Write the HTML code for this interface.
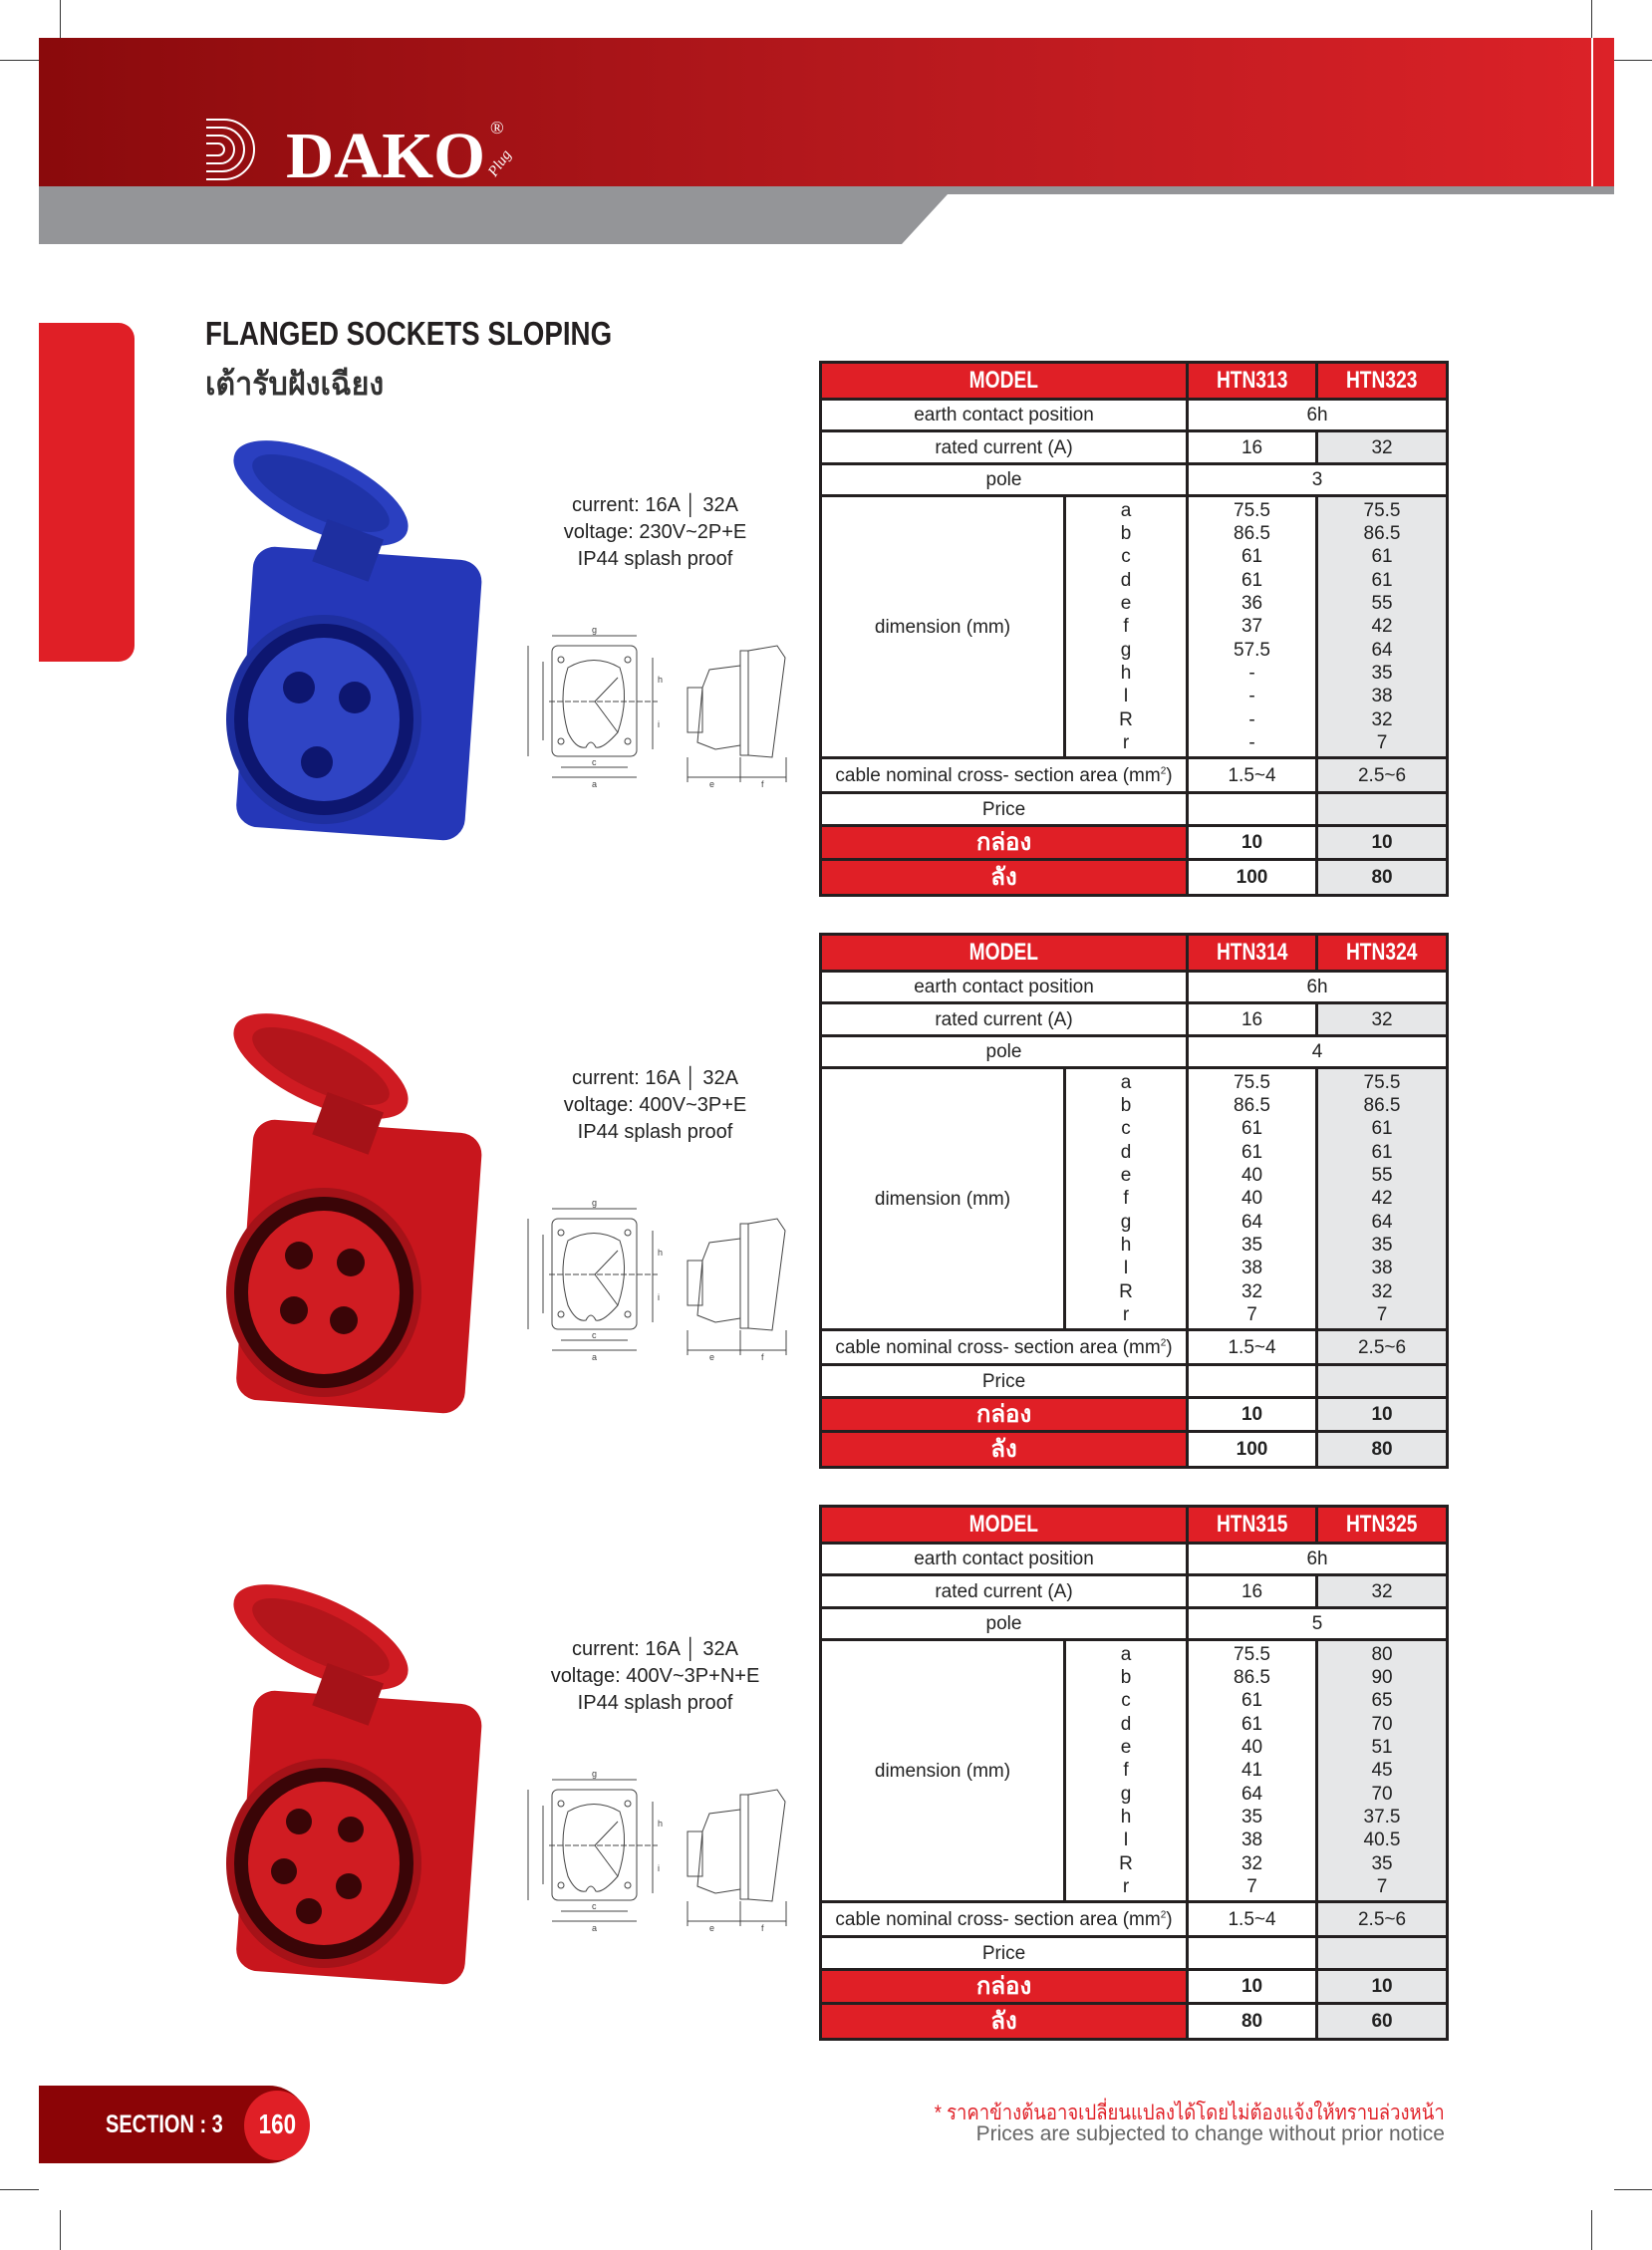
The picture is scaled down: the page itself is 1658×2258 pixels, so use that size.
<!DOCTYPE html>
<html><head><meta charset="utf-8">
<style>
*{margin:0;padding:0;box-sizing:border-box}
body{width:1658px;height:2258px;background:#fff;position:relative;overflow:hidden;font-family:"Liberation Sans",sans-serif;color:#222}
.abs{position:absolute}
.sx{display:inline-block;transform:scaleX(0.8);transform-origin:center;font-weight:bold}
table.t{position:absolute;left:822px;width:629px;border-collapse:collapse;table-layout:fixed}
table.t td{border:3px solid #231f20;text-align:center;font-size:19px;padding:0;vertical-align:middle;line-height:1;overflow:hidden}
table.t td.h{background:#e01f26;color:#fff;font-size:24px}
table.t td.th{background:#e01f26;color:#fff;font-size:24px;font-weight:bold;font-family:'Liberation Sans','Noto Sans CJK SC',sans-serif;line-height:0.9}
table.t td.g{background:#e6e7e8}
table.t td.b{font-weight:bold;font-size:19px}
table.t td.dims{line-height:23.3px;font-size:19px}
.spec{position:absolute;left:540px;width:235px;text-align:center;font-size:20px;line-height:27px;color:#222}
</style></head><body>
<!-- crop marks -->
<div class="abs" style="left:60px;top:0;width:1px;height:39px;background:#333"></div>
<div class="abs" style="left:1597px;top:0;width:1px;height:39px;background:#333"></div>
<div class="abs" style="left:0;top:60px;width:39px;height:1px;background:#333"></div>
<div class="abs" style="left:1620px;top:60px;width:38px;height:1px;background:#333"></div>
<div class="abs" style="left:0;top:2197px;width:39px;height:1px;background:#333"></div>
<div class="abs" style="left:1620px;top:2197px;width:38px;height:1px;background:#333"></div>
<div class="abs" style="left:60px;top:2218px;width:1px;height:40px;background:#333"></div>
<div class="abs" style="left:1597px;top:2218px;width:1px;height:40px;background:#333"></div>

<!-- header -->
<div class="abs" style="left:39px;top:38px;width:1581px;height:150px;background:linear-gradient(90deg,#8a0a0c,#b8191e 55%,#dc2228)"></div>
<div class="abs" style="left:1597px;top:38px;width:2px;height:157px;background:#fff"></div>
<svg class="abs" style="left:39px;top:187px" width="1581" height="60">
<polygon points="0,0 1581,0 1581,8 912,8 866,58 0,58" fill="#949598"/>
</svg>
<svg class="abs" style="left:205px;top:112px" width="330" height="80">
<g stroke="#fff" stroke-width="2" fill="none">
<path d="M2,8 H20 A30,30 0 0 1 20,68 H2"/><path d="M2,16 H18 A22,22 0 0 1 18,60 H2"/>
<path d="M2,24 H16 A14,14 0 0 1 16,52 H2"/><path d="M2,32 H14 A6,6 0 0 1 14,44 H2"/>
</g>
<text x="82" y="66" fill="#fff" font-family="Liberation Serif" font-weight="bold" font-size="66" textLength="200" lengthAdjust="spacingAndGlyphs">DAKO</text>
<text x="287" y="22" fill="#fff" font-family="Liberation Serif" font-size="18">®</text>
<text x="292" y="66" fill="#fff" font-family="Liberation Serif" font-style="italic" font-size="15" transform="rotate(-55 292 66)">Plug</text>
</svg>

<!-- side tab -->
<div class="abs" style="left:39px;top:324px;width:96px;height:340px;background:#e01f26;border-radius:0 16px 16px 0"></div>

<div class="abs" style="left:206px;top:316px;font-size:33px;font-weight:bold;color:#231f20;transform:scaleX(0.84);transform-origin:left;white-space:nowrap">FLANGED SOCKETS SLOPING</div>
<div class="abs" style="left:206px;top:360px;font-size:32px;font-weight:bold;color:#333;font-family:'Liberation Sans','Noto Sans CJK SC',sans-serif;transform:scaleX(0.95);transform-origin:left">เต้ารับฝังเฉียง</div>

<svg width="0" height="0" style="position:absolute">
<defs>
<g id="draw">
<g stroke="#444" stroke-width="1" fill="none">
<rect x="554" y="648" width="85" height="111" rx="6"/>
<path d="M570,670 Q596,655 622,670 Q632,700 620,735 Q605,752 598,750 Q593,740 588,750 Q578,752 570,735 Q560,700 570,670Z"/>
<circle cx="563" cy="662" r="3"/><circle cx="630" cy="662" r="3"/><circle cx="563" cy="744" r="3"/><circle cx="630" cy="744" r="3"/>
<line x1="551" y1="704" x2="660" y2="704" stroke-dasharray="6,2"/>
<line x1="597" y1="704" x2="620" y2="680"/><line x1="597" y1="704" x2="620" y2="735"/>
<line x1="554" y1="638" x2="639" y2="638"/><line x1="563" y1="770" x2="630" y2="770"/><line x1="554" y1="780" x2="639" y2="780"/>
<line x1="530" y1="648" x2="530" y2="759"/><line x1="545" y1="664" x2="545" y2="743"/>
<line x1="655" y1="660" x2="655" y2="704"/><line x1="655" y1="704" x2="655" y2="752"/>
<rect x="743" y="653" width="8" height="105"/>
<path d="M751,653 L780,648 L788,660 L775,760 L751,758"/>
<path d="M743,668 L712,672 L705,690 L700,745 L718,752 L743,748"/>
<rect x="690" y="690" width="15" height="45"/>
<line x1="690" y1="780" x2="789" y2="780"/><line x1="690" y1="760" x2="690" y2="785"/><line x1="789" y1="760" x2="789" y2="785"/><line x1="743" y1="760" x2="743" y2="785"/>
</g>
<g font-size="9" fill="#444" font-family="Liberation Sans"><text x="594" y="635">g</text><text x="594" y="768">c</text><text x="594" y="790">a</text><text x="660" y="685">h</text><text x="660" y="730">i</text><text x="712" y="790">e</text><text x="764" y="790">f</text></g>
</g>
</defs>
</svg>

<!-- product 1 -->
<svg class="abs" style="left:0;top:0" width="820" height="900">
<rect x="245" y="555" width="230" height="282" rx="22" fill="#2537b8" transform="rotate(4 360 700)"/>
<ellipse cx="325" cy="722" rx="98" ry="105" fill="#1e2fa0"/>
<ellipse cx="325" cy="722" rx="90" ry="96" fill="#0d1670"/>
<ellipse cx="325" cy="722" rx="76" ry="82" fill="#2f44c4"/>
<circle cx="300" cy="690" r="16" fill="#0d1670"/><circle cx="356" cy="700" r="16" fill="#0d1670"/><circle cx="318" cy="765" r="16" fill="#0d1670"/>
<ellipse cx="322" cy="495" rx="95" ry="38" fill="#2a3fc0" transform="rotate(25 322 495)"/>
<ellipse cx="322" cy="495" rx="75" ry="25" fill="#1f33a8" transform="rotate(25 322 495)"/>
<rect x="320" y="530" width="60" height="45" fill="#1e2fa0" transform="rotate(20 350 550)"/>
<use href="#draw"/>
</svg>
<div class="spec" style="top:494px">current: 16A │ 32A<br>voltage: 230V~2P+E<br>IP44 splash proof</div>

<!-- product 2 -->
<svg class="abs" style="left:0;top:575px" width="820" height="900">
<rect x="245" y="555" width="230" height="282" rx="22" fill="#c8161d" transform="rotate(4 360 700)"/>
<ellipse cx="325" cy="722" rx="98" ry="105" fill="#a51218"/>
<ellipse cx="325" cy="722" rx="90" ry="96" fill="#3a0507"/>
<ellipse cx="325" cy="722" rx="76" ry="82" fill="#d01c22"/>
<circle cx="300" cy="685" r="14" fill="#3a0507"/><circle cx="352" cy="692" r="14" fill="#3a0507"/><circle cx="295" cy="740" r="14" fill="#3a0507"/><circle cx="345" cy="750" r="14" fill="#3a0507"/>
<ellipse cx="322" cy="495" rx="95" ry="38" fill="#cf1b22" transform="rotate(25 322 495)"/>
<ellipse cx="322" cy="495" rx="75" ry="25" fill="#b3151b" transform="rotate(25 322 495)"/>
<rect x="320" y="530" width="60" height="45" fill="#a51218" transform="rotate(20 350 550)"/>
<use href="#draw"/>
</svg>
<div class="spec" style="top:1069px">current: 16A │ 32A<br>voltage: 400V~3P+E<br>IP44 splash proof</div>

<!-- product 3 -->
<svg class="abs" style="left:0;top:1148px" width="820" height="900">
<rect x="245" y="555" width="230" height="282" rx="22" fill="#c8161d" transform="rotate(4 360 700)"/>
<ellipse cx="325" cy="722" rx="98" ry="105" fill="#a51218"/>
<ellipse cx="325" cy="722" rx="90" ry="96" fill="#3a0507"/>
<ellipse cx="325" cy="722" rx="76" ry="82" fill="#d01c22"/>
<circle cx="300" cy="680" r="13" fill="#3a0507"/><circle cx="352" cy="688" r="13" fill="#3a0507"/><circle cx="285" cy="730" r="13" fill="#3a0507"/><circle cx="350" cy="745" r="13" fill="#3a0507"/><circle cx="310" cy="770" r="13" fill="#3a0507"/>
<ellipse cx="322" cy="495" rx="95" ry="38" fill="#cf1b22" transform="rotate(25 322 495)"/>
<ellipse cx="322" cy="495" rx="75" ry="25" fill="#b3151b" transform="rotate(25 322 495)"/>
<rect x="320" y="530" width="60" height="45" fill="#a51218" transform="rotate(20 350 550)"/>
<use href="#draw"/>
</svg>
<div class="spec" style="top:1642px">current: 16A │ 32A<br>voltage: 400V~3P+N+E<br>IP44 splash proof</div>

<!-- table 1 -->
<table class="t" style="top:362px">
<colgroup><col style="width:245px"><col style="width:123px"><col style="width:130px"><col style="width:131px"></colgroup>
<tr style="height:37px"><td class="h" colspan="2"><span class="sx">MODEL</span></td><td class="h"><span class="sx">HTN313</span></td><td class="h"><span class="sx">HTN323</span></td></tr>
<tr style="height:32px"><td colspan="2">earth contact position</td><td colspan="2">6h</td></tr>
<tr style="height:33px"><td colspan="2">rated current (A)</td><td>16</td><td class="g">32</td></tr>
<tr style="height:32px"><td colspan="2">pole</td><td colspan="2">3</td></tr>
<tr style="height:263px"><td>dimension (mm)</td><td class="dims">a<br>b<br>c<br>d<br>e<br>f<br>g<br>h<br>I<br>R<br>r</td><td class="dims">75.5<br>86.5<br>61<br>61<br>36<br>37<br>57.5<br>-<br>-<br>-<br>-</td><td class="dims g">75.5<br>86.5<br>61<br>61<br>55<br>42<br>64<br>35<br>38<br>32<br>7</td></tr>
<tr style="height:35px"><td colspan="2" style="font-size:19px">cable nominal cross- section area (mm<sup style="font-size:10px">2</sup>)</td><td>1.5~4</td><td class="g">2.5~6</td></tr>
<tr style="height:33px"><td colspan="2">Price</td><td></td><td class="g"></td></tr>
<tr style="height:34px"><td class="th" colspan="2">กล่อง</td><td class="b">10</td><td class="b g">10</td></tr>
<tr style="height:36px"><td class="th" colspan="2">ลัง</td><td class="b">100</td><td class="b g">80</td></tr>
</table>

<!-- table 2 -->
<table class="t" style="top:936px">
<colgroup><col style="width:245px"><col style="width:123px"><col style="width:130px"><col style="width:131px"></colgroup>
<tr style="height:37px"><td class="h" colspan="2"><span class="sx">MODEL</span></td><td class="h"><span class="sx">HTN314</span></td><td class="h"><span class="sx">HTN324</span></td></tr>
<tr style="height:32px"><td colspan="2">earth contact position</td><td colspan="2">6h</td></tr>
<tr style="height:33px"><td colspan="2">rated current (A)</td><td>16</td><td class="g">32</td></tr>
<tr style="height:32px"><td colspan="2">pole</td><td colspan="2">4</td></tr>
<tr style="height:263px"><td>dimension (mm)</td><td class="dims">a<br>b<br>c<br>d<br>e<br>f<br>g<br>h<br>I<br>R<br>r</td><td class="dims">75.5<br>86.5<br>61<br>61<br>40<br>40<br>64<br>35<br>38<br>32<br>7</td><td class="dims g">75.5<br>86.5<br>61<br>61<br>55<br>42<br>64<br>35<br>38<br>32<br>7</td></tr>
<tr style="height:35px"><td colspan="2" style="font-size:19px">cable nominal cross- section area (mm<sup style="font-size:10px">2</sup>)</td><td>1.5~4</td><td class="g">2.5~6</td></tr>
<tr style="height:33px"><td colspan="2">Price</td><td></td><td class="g"></td></tr>
<tr style="height:34px"><td class="th" colspan="2">กล่อง</td><td class="b">10</td><td class="b g">10</td></tr>
<tr style="height:36px"><td class="th" colspan="2">ลัง</td><td class="b">100</td><td class="b g">80</td></tr>
</table>

<!-- table 3 -->
<table class="t" style="top:1510px">
<colgroup><col style="width:245px"><col style="width:123px"><col style="width:130px"><col style="width:131px"></colgroup>
<tr style="height:37px"><td class="h" colspan="2"><span class="sx">MODEL</span></td><td class="h"><span class="sx">HTN315</span></td><td class="h"><span class="sx">HTN325</span></td></tr>
<tr style="height:32px"><td colspan="2">earth contact position</td><td colspan="2">6h</td></tr>
<tr style="height:33px"><td colspan="2">rated current (A)</td><td>16</td><td class="g">32</td></tr>
<tr style="height:32px"><td colspan="2">pole</td><td colspan="2">5</td></tr>
<tr style="height:263px"><td>dimension (mm)</td><td class="dims">a<br>b<br>c<br>d<br>e<br>f<br>g<br>h<br>I<br>R<br>r</td><td class="dims">75.5<br>86.5<br>61<br>61<br>40<br>41<br>64<br>35<br>38<br>32<br>7</td><td class="dims g">80<br>90<br>65<br>70<br>51<br>45<br>70<br>37.5<br>40.5<br>35<br>7</td></tr>
<tr style="height:35px"><td colspan="2" style="font-size:19px">cable nominal cross- section area (mm<sup style="font-size:10px">2</sup>)</td><td>1.5~4</td><td class="g">2.5~6</td></tr>
<tr style="height:33px"><td colspan="2">Price</td><td></td><td class="g"></td></tr>
<tr style="height:34px"><td class="th" colspan="2">กล่อง</td><td class="b">10</td><td class="b g">10</td></tr>
<tr style="height:36px"><td class="th" colspan="2">ลัง</td><td class="b">80</td><td class="b g">60</td></tr>
</table>

<!-- footer -->
<div class="abs" style="left:39px;top:2093px;width:270px;height:78px;background:#8b0406;border-radius:0 39px 39px 0"></div>
<div class="abs" style="left:245px;top:2098px;width:66px;height:70px;background:#e01f26;border-radius:50%"></div>
<div class="abs" style="left:106px;top:2118px;font-size:25px;font-weight:bold;color:#fff;transform:scaleX(0.8);transform-origin:left;white-space:nowrap">SECTION : 3</div>
<div class="abs" style="left:250px;top:2116px;width:56px;text-align:center;font-size:28px;font-weight:bold;color:#fff"><span style="display:inline-block;transform:scaleX(0.8)">160</span></div>
<div class="abs" style="right:208px;top:2104px;font-size:21px;color:#e01f26;font-family:'Liberation Sans','Noto Sans CJK SC',sans-serif;transform:scaleX(0.88);transform-origin:right;white-space:nowrap">* ราคาข้างต้นอาจเปลี่ยนแปลงได้โดยไม่ต้องแจ้งให้ทราบล่วงหน้า</div>
<div class="abs" style="right:208px;top:2130px;font-size:21px;color:#666;white-space:nowrap">Prices are subjected to change without prior notice</div>
</body></html>
